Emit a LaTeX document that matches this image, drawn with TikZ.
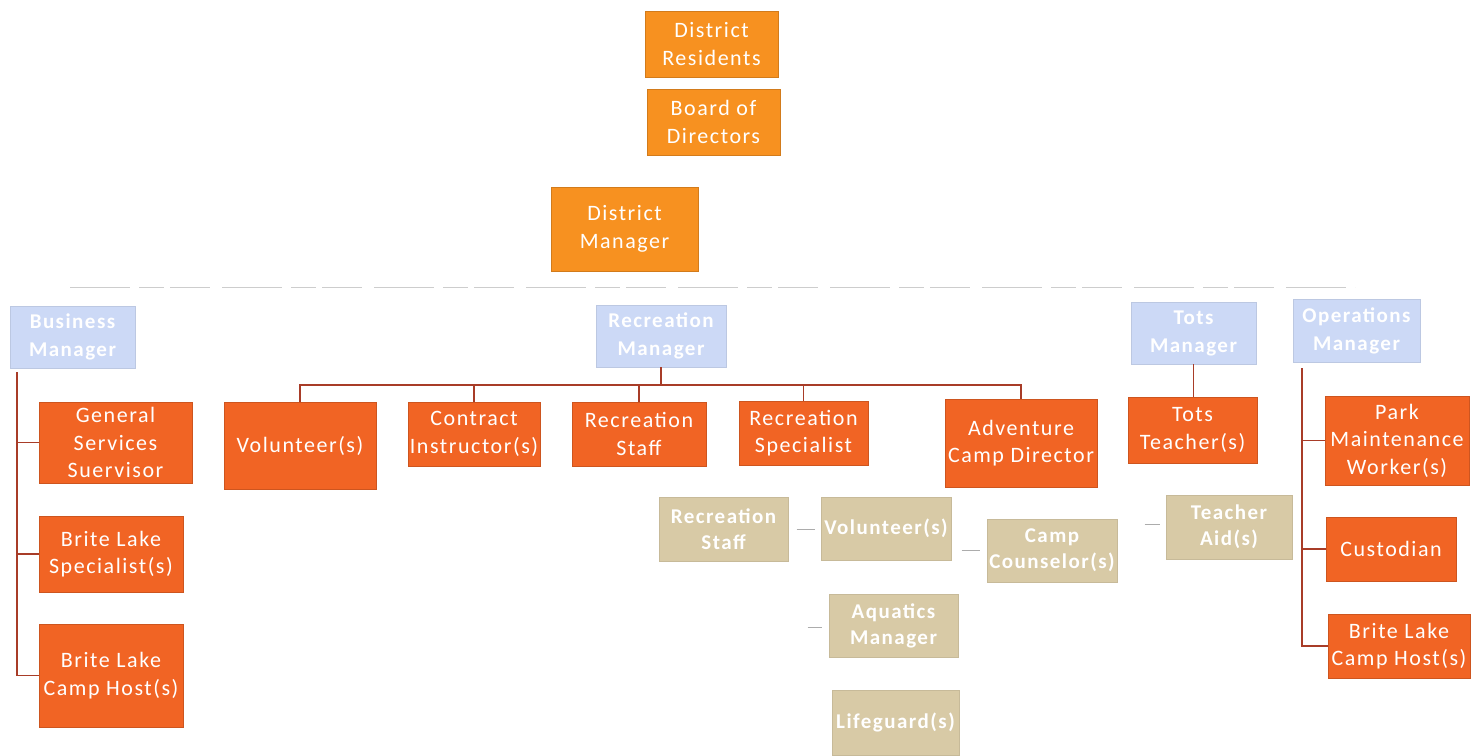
\documentclass[tikz,border=0pt]{standalone}
\usepackage{fontspec}
\setmainfont[LetterSpace=7]{Carlito}
\usetikzlibrary{calc}
\definecolor{topor}{RGB}{247,145,32}
\definecolor{lowor}{RGB}{241,100,36}
\definecolor{mgrblue}{RGB}{204,217,246}
\definecolor{tanbox}{RGB}{216,202,166}
\definecolor{link}{RGB}{168,60,40}
\definecolor{faint}{RGB}{205,205,205}
\tikzset{
  basebox/.style={align=center, inner sep=0pt, text=white},
  topbox/.style={basebox, fill=topor, draw=topor!85!black, line width=0.8pt,
    font=\fontsize{22}{28}\selectfont},
  lowbox/.style={basebox, fill=lowor, draw=lowor!85!black, line width=0.8pt,
    font=\fontsize{22}{27.5}\selectfont},
  mgrbox/.style={basebox, fill=mgrblue, draw=mgrblue!92!black, line width=0.6pt,
    font=\bfseries\fontsize{21}{28}\selectfont},
  tbox/.style={basebox, fill=tanbox, draw=tanbox!92!black, line width=0.6pt,
    font=\bfseries\fontsize{21}{26}\selectfont},
  link/.style={draw=link, line width=1.3pt},
  tick/.style={draw=gray!65, line width=1pt},
  faintline/.style={draw=faint, line width=0.8pt, dash pattern=on 60pt off 9pt on 25pt off 6pt on 40pt off 12pt},
}
\begin{document}
\begin{tikzpicture}[x=1pt,y=-1pt]
\useasboundingbox (0,0) rectangle (1482,755);
% top chain
\node[topbox, minimum width=133, minimum height=66] (res) at (711.5,44) {District\\Residents};
\node[topbox, minimum width=133, minimum height=66] (board) at (713.5,122) {Board of\\Directors};
\node[topbox, minimum width=147, minimum height=84] (dm) at (624.5,229) {District\\Manager};
% faint divider
\coordinate (fl) at (70,287);
\coordinate (fr) at (1355,287);
\draw[faintline] (fl) -- (fr);
% managers
\node[mgrbox, minimum width=125, minimum height=62] (bm) at (72.5,337) {Business\\Manager};
\node[mgrbox, minimum width=130, minimum height=62] (rm) at (661,336) {Recreation\\Manager};
\node[mgrbox, minimum width=125, minimum height=62] (tm) at (1193.5,333) {Tots\\Manager};
\node[mgrbox, minimum width=127, minimum height=63] (om) at (1356.5,330.5) {Operations\\Manager};
% business column
\node[lowbox, minimum width=153, minimum height=81] (gss) at (115.5,442.5) {General\\Services\\Suervisor};
\node[lowbox, minimum width=144, minimum height=76] (bls) at (111,554) {Brite Lake\\Specialist(s)};
\node[lowbox, minimum width=144, minimum height=103] (blh) at (111,675.5) {Brite Lake\\Camp Host(s)};
\coordinate (bmtop) at (17,372);
\draw[link] (bmtop) |- (gss.west);
\draw[link] (bmtop) |- (bls.west);
\draw[link] (bmtop) |- (blh.west);
% recreation row
\node[lowbox, minimum width=152, minimum height=87] (vol) at (300,445.5) {Volunteer(s)};
\node[lowbox, minimum width=132, minimum height=64] (ci) at (474,434) {Contract\\Instructor(s)};
\node[lowbox, minimum width=134, minimum height=64] (rs) at (639,434) {Recreation\\Staff};
\node[lowbox, minimum width=129, minimum height=64] (rsp) at (803.5,433) {Recreation\\Specialist};
\node[lowbox, minimum width=152, minimum height=88] (acd) at (1021,443) {Adventure\\Camp Director};
\coordinate (recbar) at (661,385);
\draw[link] (rm.south) -- (recbar);
\draw[link] (vol.north) -- (vol.north |- recbar) -- (acd.north |- recbar) -- (acd.north);
\draw[link] (ci.north) -- (ci.north |- recbar);
\draw[link] (rs.north) -- (rs.north |- recbar);
\draw[link] (rsp.north) -- (rsp.north |- recbar);
% tots
\node[lowbox, minimum width=129, minimum height=66] (tt) at (1192.5,430) {Tots\\Teacher(s)};
\draw[link] (tm.south) -- (tm.south |- tt.north);
% operations column
\node[lowbox, minimum width=144, minimum height=89] (pmw) at (1397,440.5) {Park\\Maintenance\\Worker(s)};
\node[lowbox, minimum width=130, minimum height=64] (cus) at (1391,549) {Custodian};
\node[lowbox, minimum width=142, minimum height=64] (blh2) at (1399,646) {Brite Lake\\Camp Host(s)};
\coordinate (omtop) at (1302,368);
\draw[link] (omtop) |- (pmw.west);
\draw[link] (omtop) |- (cus.west);
\draw[link] (omtop) |- (blh2.west);
% tan boxes
\node[tbox, minimum width=129, minimum height=64] (trs) at (723.5,529) {Recreation\\Staff};
\node[tbox, minimum width=130, minimum height=63] (tvol) at (886,528.5) {Volunteer(s)};
\node[tbox, minimum width=130, minimum height=63] (tcc) at (1052,550.5) {Camp\\Counselor(s)};
\node[tbox, minimum width=126, minimum height=64] (tta) at (1229,527) {Teacher\\Aid(s)};
\node[tbox, minimum width=129, minimum height=63] (tam) at (893.5,625.5) {Aquatics\\Manager};
\node[tbox, minimum width=127, minimum height=65] (tlg) at (895.5,722.5) {Lifeguard(s)};
\draw[tick] ($(tvol.west)+(-24,1)$) -- ($(tvol.west)+(-6,1)$);
\draw[tick] ($(tcc.west)+(-25,0)$) -- ($(tcc.west)+(-7,0)$);
\draw[tick] ($(tta.west)+(-21,-3)$) -- ($(tta.west)+(-6,-3)$);
\draw[tick] ($(tam.west)+(-21,2)$) -- ($(tam.west)+(-7,2)$);
\end{tikzpicture}
\end{document}
